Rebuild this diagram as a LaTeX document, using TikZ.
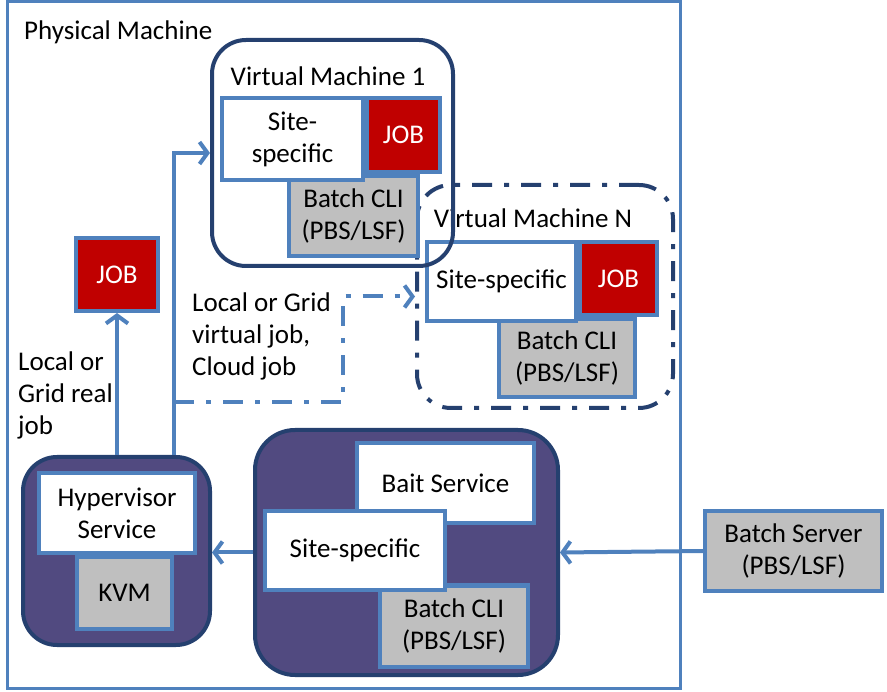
\documentclass[tikz,border=0pt]{standalone}
\usepackage{fontspec}
\setmainfont{Carlito}
\usetikzlibrary{arrows.meta}
\definecolor{lblue}{RGB}{79,129,189}
\definecolor{navy}{RGB}{37,64,111}
\definecolor{hostpurple}{RGB}{81,74,128}
\definecolor{jobred}{RGB}{192,0,0}
\definecolor{cligrey}{RGB}{191,191,191}
\tikzset{
  pbox/.style={draw=lblue, line width=4pt, inner sep=0pt, align=center},
  wbox/.style={pbox, fill=white},
  gbox/.style={pbox, fill=cligrey},
  jbox/.style={pbox, fill=jobred, text=white},
  vm/.style={draw=navy, line width=4pt, rounded corners=34pt, inner sep=0pt},
  host/.style={vm, fill=hostpurple},
  arr/.style={draw=lblue, line width=4pt, -{Straight Barb[length=8pt,width=22pt]}},
  dashdot/.style={dash pattern=on 20pt off 12pt on 5pt off 12pt},
}
\begin{document}
\begin{tikzpicture}[x=1pt,y=-1pt,font=\fontsize{27}{32}\selectfont]
    \useasboundingbox (0,0) rectangle (887,692);
    % physical machine
    \node[draw=lblue, line width=3pt, minimum width=673pt, minimum height=686pt, inner sep=0pt] (phys) at (343.5,345) {};
    \node[anchor=west, inner sep=0pt] (physlbl) at (24,32) {Physical Machine};

    \node[jbox, minimum width=82pt, minimum height=73pt] (job) at (117,274.5) {JOB};
    \node[anchor=west, align=left, inner sep=0pt] (reallbl) at (18,395) {Local or\\Grid real\\job};
    \node[anchor=west, align=left, inner sep=0pt] (virtlbl) at (192,336) {Local or Grid\\virtual job,\\Cloud job};

    % virtual machine N
    \node[vm, dashdot, minimum width=256pt, minimum height=223pt] (vmN) at (545,296.5) {};
    \node[inner sep=0pt] (vmNlbl) at (533,218) {Virtual Machine N};
    \node[gbox, minimum width=136pt, minimum height=78pt] (cliN) at (567,358) {Batch CLI\\(PBS/LSF)};
    \node[wbox, minimum width=149pt, minimum height=79pt] (siteN) at (501.5,281.5) {Site-specific};
    \node[jbox, minimum width=77pt, minimum height=73pt] (jobN) at (618.5,278.5) {JOB};

    % virtual machine 1
    \node[gbox, minimum width=129pt, minimum height=80pt] (cli1) at (353.5,216) {Batch CLI\\(PBS/LSF)};
    \node[wbox, minimum width=141pt, minimum height=82pt] (site1) at (292.5,139) {Site-\\specific};
    \node[jbox, minimum width=73pt, minimum height=74pt] (job1) at (403.5,135) {JOB};
    \node[inner sep=0pt] (vm1lbl) at (328,76) {Virtual Machine 1};
    \node[vm, minimum width=241pt, minimum height=226pt] (vm1) at (332.5,153) {};

    % hypervisor
    \node[host, minimum width=187pt, minimum height=188pt] (hyp) at (116.5,551) {};
    \node[gbox, minimum width=95pt, minimum height=72pt] (kvm) at (124.5,593) {KVM};
    \node[wbox, minimum width=156pt, minimum height=80pt] (hypsvc) at (117,513) {Hypervisor\\Service};

    % bait
    \node[host, rounded corners=40pt, minimum width=303pt, minimum height=245pt] (bait) at (406.5,552.5) {};
    \node[wbox, minimum width=177pt, minimum height=80pt] (baitsvc) at (445.5,483) {Bait Service};
    \node[gbox, minimum width=148pt, minimum height=81pt] (baitcli) at (454,626) {Batch CLI\\(PBS/LSF)};
    \node[wbox, minimum width=180pt, minimum height=79pt] (site) at (355,550.5) {Site-specific};

    \node[gbox, minimum width=177pt, minimum height=80pt] (server) at (793.5,551) {Batch Server\\(PBS/LSF)};

    % connectors
    \coordinate (fork) at (174,402);
    \coordinate (bend) at (343,402);
    \draw[arr] (hyp.north -| job) -- (job.south);
    \draw[arr] (hyp.north -| fork) |- (vm1.west);
    \draw[arr, dashdot] (fork) -- (bend) |- (vmN.west);
    \draw[arr] (bait.west) -- (bait.west -| hyp.east);
    \draw[arr] (server.west) -- (bait.east);
\end{tikzpicture}
\end{document}
